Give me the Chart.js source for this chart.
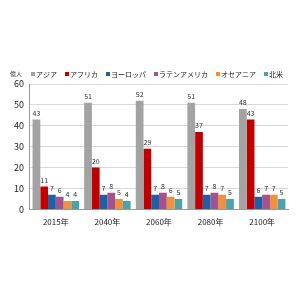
<!DOCTYPE html>
<html>
<head>
<meta charset="utf-8">
<script src="https://cdn.jsdelivr.net/npm/chart.js@4"></script>
<style>
  html, body { margin: 0; padding: 0; background: #fff; }
  #wrap { width: 300px; height: 300px; position: relative; }
</style>
</head>
<body>
<div id="wrap"><canvas id="popChart" width="300" height="300"></canvas></div>
<script>
// 年（カテゴリ）
const years = ['2015年', '2040年', '2060年', '2080年', '2100年'];
// 地域別人口（億人）
const asia = [43, 51, 52, 51, 48];
const africa = [11, 20, 29, 37, 43];
const europe = [7, 7, 7, 7, 6];
const latinAmerica = [6, 8, 8, 8, 7];
const oceania = [4, 5, 6, 7, 7];
const northAmerica = [4, 4, 5, 5, 5];
const yTicks = [0, 10, 20, 30, 40, 50, 60];

const FONT = '"Noto Sans CJK JP", "Noto Sans", sans-serif';

// 棒の上に数値を描く
const valueLabels = {
  id: 'valueLabels',
  afterDatasetsDraw(chart) {
    const ctx = chart.ctx;
    ctx.save();
    ctx.font = '7px ' + FONT;
    ctx.fillStyle = '#333';
    ctx.textAlign = 'center';
    ctx.textBaseline = 'bottom';
    chart.data.datasets.forEach((ds, i) => {
      chart.getDatasetMeta(i).data.forEach((bar, j) => {
        ctx.fillText(ds.data[j], bar.x, bar.y - 3);
      });
    });
    ctx.restore();
  }
};

// 単位ラベルと凡例（1行に収める）
const topLegend = {
  id: 'topLegend',
  afterDraw(chart) {
    const ctx = chart.ctx;
    ctx.save();
    ctx.textBaseline = 'middle';
    ctx.textAlign = 'left';
    ctx.fillStyle = '#333';
    ctx.font = '6px ' + FONT;
    ctx.fillText('億人', 10, 74);
    ctx.font = '7px ' + FONT;
    let x = 31;
    chart.data.datasets.forEach(ds => {
      ctx.fillStyle = ds.backgroundColor;
      ctx.fillRect(x, 72, 4, 4);
      ctx.fillStyle = '#222';
      ctx.fillText(ds.label, x + 5, 74);
      x += 5 + ctx.measureText(ds.label).width + 8;
    });
    ctx.restore();
  }
};

const mk = (label, data, color) => ({
  label, data, backgroundColor: color, borderWidth: 0,
  categoryPercentage: 0.9, barPercentage: 1.0
});

new Chart(document.getElementById('popChart').getContext('2d'), {
  type: 'bar',
  data: {
    labels: years,
    datasets: [
      mk('アジア', asia, '#a3a3a3'),
      mk('アフリカ', africa, '#c00000'),
      mk('ヨーロッパ', europe, '#1f5fa6'),
      mk('ラテンアメリカ', latinAmerica, '#a2528c'),
      mk('オセアニア', oceania, '#f0913e'),
      mk('北米', northAmerica, '#4aa3ab')
    ]
  },
  options: {
    responsive: false,
    animation: false,
    layout: { padding: { top: 84, right: 12, bottom: 73, left: 8 } },
    plugins: {
      legend: { display: false },
      tooltip: { enabled: false }
    },
    scales: {
      x: {
        grid: { display: false },
        border: { color: '#999' },
        ticks: { color: '#222', padding: 0, font: { family: FONT, size: 8 }, maxRotation: 0 }
      },
      y: {
        min: 0, max: 60,
        afterBuildTicks: axis => { axis.ticks = yTicks.map(v => ({ value: v })); },
        grid: { color: '#d9d9d9', drawTicks: false },
        border: { color: '#999' },
        ticks: { color: '#222', padding: 6, font: { family: FONT, size: 9 } }
      }
    }
  },
  plugins: [valueLabels, topLegend]
});
</script>
</body>
</html>
